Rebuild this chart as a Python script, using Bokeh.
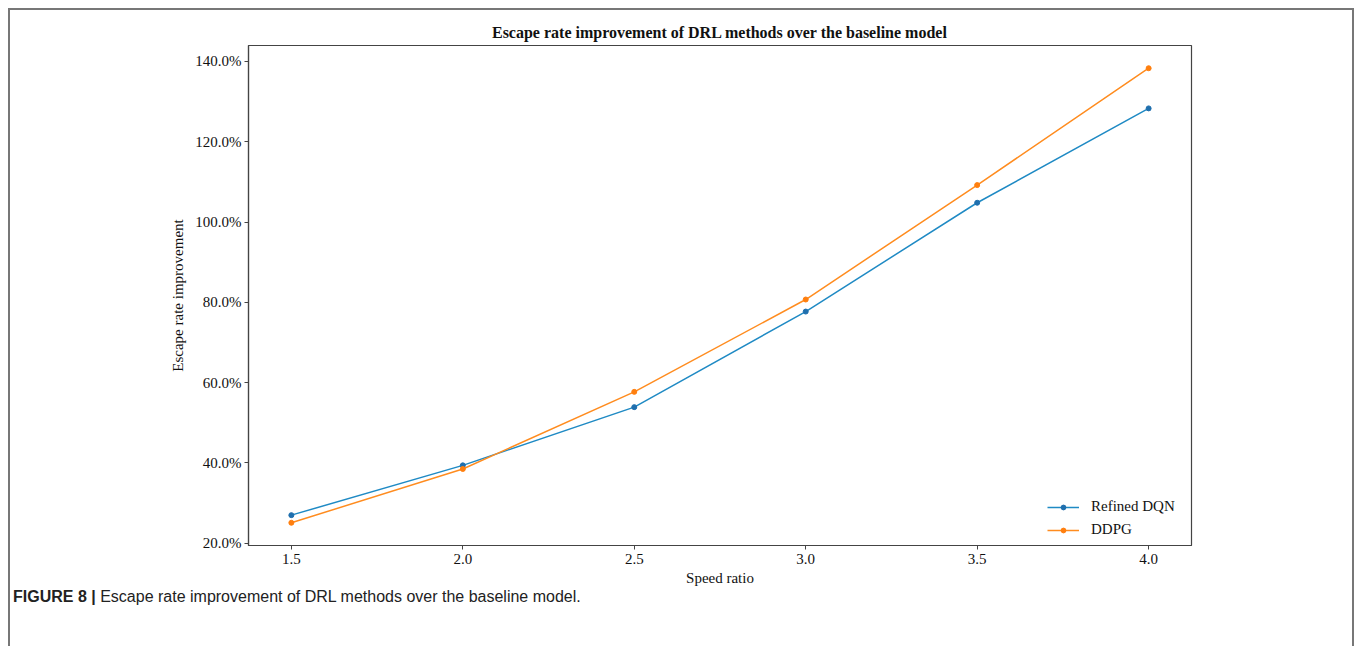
from bokeh.plotting import figure
from bokeh.models import Range1d, FixedTicker, PrintfTickFormatter, Div
from bokeh.layouts import column
from bokeh.embed import file_html
from bokeh.resources import INLINE

speed_ratio = [1.5, 2.0, 2.5, 3.0, 3.5, 4.0]
refined_dqn = [27.0, 39.4, 53.9, 77.7, 104.8, 128.3]
ddpg = [25.1, 38.5, 57.7, 80.7, 109.2, 138.3]
y_ticks = [20, 40, 60, 80, 100, 120, 140]
x_ticks = [1.5, 2.0, 2.5, 3.0, 3.5, 4.0]

title_text = "Escape rate improvement of DRL methods over the baseline model"
caption_bold = "FIGURE 8 |"
caption_text = "Escape rate improvement of DRL methods over the baseline model."

SERIF = "Liberation Serif"
blue_line, blue_mark = "#1f8ac4", "#1f6fae"
orange_line, orange_mark = "#ff8c1f", "#ff7f0e"

p = figure(width=1342, height=578, output_backend="svg", toolbar_location=None,
           x_range=Range1d(1.375, 4.125), y_range=Range1d(19.44, 143.96),
           min_border_left=238, min_border_right=161, min_border_top=35,
           min_border_bottom=41, title=title_text)

p.line(speed_ratio, refined_dqn, line_color=blue_line, line_width=1.5, legend_label="Refined DQN")
p.scatter(speed_ratio, refined_dqn, size=5, fill_color=blue_mark, line_color=blue_mark, legend_label="Refined DQN")
p.line(speed_ratio, ddpg, line_color=orange_line, line_width=1.5, legend_label="DDPG")
p.scatter(speed_ratio, ddpg, size=5, fill_color=orange_mark, line_color=orange_mark, legend_label="DDPG")

p.title.align = "center"
p.title.text_font = SERIF
p.title.text_font_size = "16px"
p.title.text_font_style = "bold"
p.title.text_color = "#111111"

p.xgrid.visible = False
p.ygrid.visible = False
p.outline_line_color = "#444444"
p.outline_line_width = 1.2

for ax in (p.xaxis[0], p.yaxis[0]):
    ax.axis_line_color = "#444444"
    ax.axis_line_width = 1.2
    ax.major_tick_line_color = "#444444"
    ax.major_tick_in = 0
    ax.major_tick_out = 4
    ax.minor_tick_line_color = None
    ax.major_label_text_font = SERIF
    ax.major_label_text_font_size = "15px"
    ax.major_label_text_color = "#111111"
    ax.axis_label_text_font = SERIF
    ax.axis_label_text_font_size = "15px"
    ax.axis_label_text_font_style = "normal"
    ax.axis_label_text_color = "#111111"

p.xaxis.ticker = FixedTicker(ticks=x_ticks)
p.xaxis.formatter = PrintfTickFormatter(format="%.1f")
p.xaxis.axis_label = "Speed ratio"
p.xaxis.major_label_standoff = 4
p.xaxis.axis_label_standoff = 3

p.yaxis.ticker = FixedTicker(ticks=y_ticks)
p.yaxis.formatter = PrintfTickFormatter(format="%.1f%%")
p.yaxis.axis_label = "Escape rate improvement"
p.yaxis.major_label_standoff = 3
p.yaxis.axis_label_standoff = 6

lg = p.legend[0]
lg.location = (799, 4)
lg.padding = 0
lg.margin = 0
lg.spacing = 0
lg.glyph_width = 32
lg.glyph_height = 12
lg.label_height = 23
lg.label_standoff = 12
lg.border_line_alpha = 0
lg.background_fill_alpha = 0
lg.label_text_font = SERIF
lg.label_text_font_size = "15px"
lg.label_text_color = "#111111"

cap = Div(text=f'<span style="font-weight:bold">{caption_bold}</span> {caption_text}',
          width=1342, height=56,
          styles={"font-family": "Liberation Sans", "font-size": "16px",
                  "line-height": "18px", "color": "#222222",
                  "white-space": "nowrap",
                  "position": "relative", "top": "-5px", "left": "-2px"})

layout = column(p, cap, spacing=0, width=1346, sizing_mode="fixed",
                styles={"border-left": "2px solid #777777",
                        "border-top": "2px solid #777777",
                        "border-right": "2px solid #777777",
                        "transform": "translate(8px, 8px)"})

open("out.html", "w").write(file_html(layout, INLINE))
